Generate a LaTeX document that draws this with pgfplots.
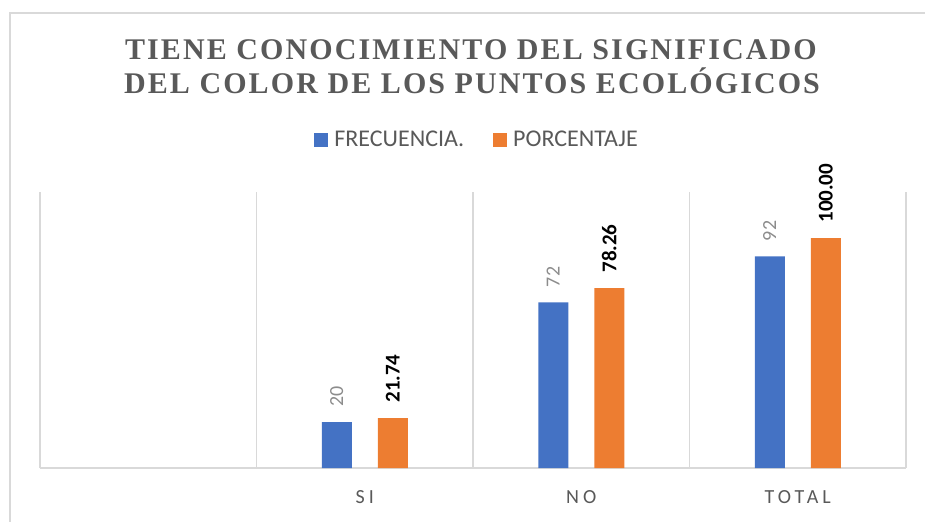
\documentclass[border=0pt]{standalone}
\usepackage{fontspec}
\setmainfont{Carlito}
\newfontfamily\titlefont[LetterSpace=7]{Liberation Serif}
\newfontfamily\tickfont[LetterSpace=20]{Carlito}
\usepackage{pgfplots}
\pgfplotsset{compat=1.18}
\definecolor{barblue}{HTML}{4472C4}
\definecolor{barorange}{HTML}{ED7D31}
\definecolor{gridgray}{HTML}{D9D9D9}
\definecolor{textgray}{HTML}{595959}
\definecolor{lblgray}{HTML}{8C8C8C}
\begin{document}
\begin{tikzpicture}
\useasboundingbox (0,0) rectangle (462.5pt,260.5pt);
\draw[gridgray, line width=0.8pt] (5pt,-2pt) -- (5pt,254pt) -- (470pt,254pt);
\node[anchor=base, text=textgray, font=\titlefont\bfseries\fontsize{15}{17}\selectfont] at (235.5pt,230.75pt) {TIENE CONOCIMIENTO DEL SIGNIFICADO};
\node[anchor=base, text=textgray, font=\titlefont\bfseries\fontsize{15}{17}\selectfont] at (236pt,213.85pt) {DEL COLOR DE LOS PUNTOS ECOLÓGICOS};
\begin{axis}[
  at={(20pt,26.5pt)}, anchor=south west,
  scale only axis, width=433pt, height=138pt,
  ybar, ymin=0, ymax=120,
  xmin=-0.5, xmax=3.5,
  hide y axis,
  axis x line*=bottom,
  x axis line style={draw=gridgray, line width=0.8pt},
  xtick={0,1,2,3}, xticklabels={,SI,NO,TOTAL},
  major tick length=0pt,
  minor xtick={-0.5,0.5,1.5,2.5,3.5},
  minor tick length=0pt,
  xminorgrids,
  minor grid style={draw=gridgray, line width=0.8pt},
  xticklabel style={font=\tickfont\fontsize{10}{12}\selectfont, text=textgray, anchor=base, yshift=-17.5pt},
  clip=false,
  bar width=15pt,
  /pgf/number format/assume math mode=true,
  legend style={at={(0.507,1.188)}, anchor=center, draw=none, fill=none,
    legend columns=2, font=\fontsize{12}{14}\selectfont, text=textgray,
    /tikz/every even column/.append style={column sep=11.5pt},
    nodes={inner xsep=3pt, inner ysep=1pt}},
  legend image code/.code={\fill[#1] (0pt,-3.5pt) rectangle (7pt,3.5pt);},
  nodes near coords,
  every node near coord/.append style={rotate=90, anchor=west, inner xsep=7.5pt, inner ysep=0pt},
]
\addplot[draw=none, fill=barblue, bar shift=-14pt,
  nodes near coords={\pgfmathprintnumber[fixed,precision=0]{\pgfplotspointmeta}},
  every node near coord/.append style={text=lblgray, font=\fontsize{10}{12}\selectfont}]
  coordinates {(1,20) (2,72) (3,92)};
\addlegendentry{FRECUENCIA.}
\addplot[draw=none, fill=barorange, bar shift=14pt,
  nodes near coords={\pgfmathprintnumber[fixed,precision=2,zerofill]{\pgfplotspointmeta}},
  every node near coord/.append style={text=black, font=\bfseries\fontsize{10.5}{12}\selectfont}]
  coordinates {(1,21.74) (2,78.26) (3,100)};
\addlegendentry{PORCENTAJE}
\end{axis}
\end{tikzpicture}
\end{document}
